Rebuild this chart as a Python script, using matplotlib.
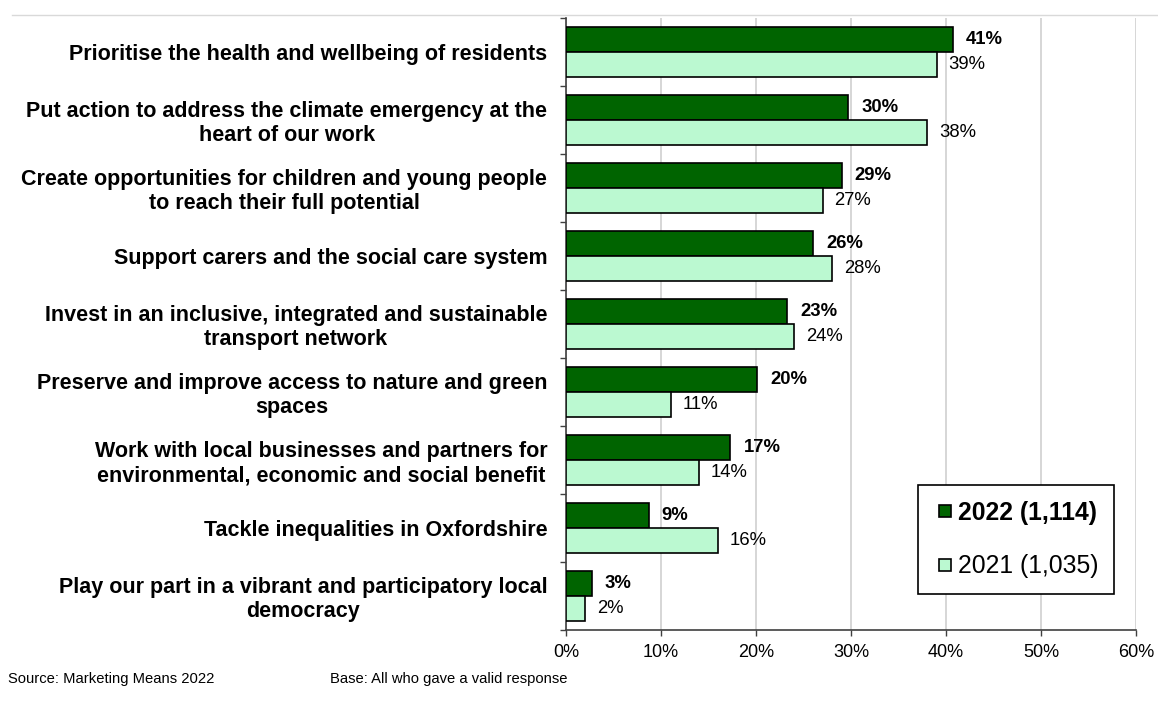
import numpy as np
import matplotlib
matplotlib.use("Agg")
import matplotlib.pyplot as plt
from matplotlib.lines import Line2D

plt.rcParams['font.family'] = ['Liberation Sans', 'DejaVu Sans']

categories = [
    "Prioritise the health and wellbeing of residents",
    "Put action to address the climate emergency at the\nheart of our work",
    "Create opportunities for children and young people\nto reach their full potential",
    "Support carers and the social care system",
    "Invest in an inclusive, integrated and sustainable\ntransport network",
    "Preserve and improve access to nature and green\nspaces",
    "Work with local businesses and partners for\nenvironmental, economic and social benefit",
    "Tackle inequalities in Oxfordshire",
    "Play our part in a vibrant and participatory local\ndemocracy",
]
values_2022 = [40.7, 29.7, 29.0, 26.0, 23.3, 20.1, 17.3, 8.7, 2.7]
values_2021 = [39.0, 38.0, 27.0, 28.0, 24.0, 11.0, 14.0, 16.0, 2.0]
series_names = ["2022 (1,114)", "2021 (1,035)"]
x_ticks = [0, 10, 20, 30, 40, 50, 60]
footer_source = "Source: Marketing Means 2022"
footer_base = "Base: All who gave a valid response"

dark = '#006400'
light = '#BBF9D1'
axis_col = '#404040'

W, H = 1158, 713
fig = plt.figure(figsize=(W / 100, H / 100), dpi=100)
ax = fig.add_axes([566 / W, 1 - 630 / H, 570 / W, 612 / H])

y = np.arange(len(categories))
h = 0.372
ax.barh(y - h / 2, values_2022, height=h, color=dark, edgecolor='black', linewidth=1.2, zorder=3)
ax.barh(y + h / 2, values_2021, height=h, color=light, edgecolor='black', linewidth=1.2, zorder=3)

for yi, v in zip(y, values_2022):
    ax.annotate(f"{v:.0f}%", (v, yi - h / 2), xytext=(9.5, 0), textcoords='offset points',
                va='center', ha='left', fontsize=13.3, fontweight='bold')
for yi, v in zip(y, values_2021):
    ax.annotate(f"{v:.0f}%", (v, yi + h / 2), xytext=(8.5, 0), textcoords='offset points',
                va='center', ha='left', fontsize=13.3)

ax.set_xlim(0, 60)
ax.set_ylim(len(categories) - 0.5, -0.5)
ax.set_xticks(x_ticks)
ax.set_xticklabels([f"{t}%" for t in x_ticks], fontsize=13)
ax.set_yticks(y)
ax.set_yticklabels(categories, fontsize=15.5, fontweight='bold', multialignment='center',
                   linespacing=1.17)
ax.set_yticks(np.arange(-0.5, len(categories), 1), minor=True)
ax.tick_params(axis='y', which='major', length=0, pad=13.5)
ax.tick_params(axis='y', which='minor', length=4, direction='out', color=axis_col, width=1)
ax.tick_params(axis='x', length=4, direction='out', color=axis_col, width=1, pad=6)

ax.xaxis.grid(True, color='#d0d0d0', linewidth=1.2, zorder=0)
ax.set_axisbelow(True)
for s in ['top', 'right']:
    ax.spines[s].set_visible(False)
for s in ['left', 'bottom']:
    ax.spines[s].set_color(axis_col)
    ax.spines[s].set_linewidth(1.2)

handles = [Line2D([], [], linestyle='none', marker='s', markersize=9,
                  markerfacecolor=dark, markeredgecolor='black', markeredgewidth=1.2),
           Line2D([], [], linestyle='none', marker='s', markersize=9,
                  markerfacecolor=light, markeredgecolor='black', markeredgewidth=1.2)]
leg = fig.legend(handles, series_names, loc='upper left',
                 bbox_to_anchor=(918 / W, 1 - 485 / H), fontsize=17.8,
                 frameon=True, fancybox=False, edgecolor='black', framealpha=1,
                 handlelength=0.9, handletextpad=0.05,
                 labelspacing=1.18, borderpad=0.65, borderaxespad=0)
leg.get_frame().set_linewidth(1.2)
leg.get_texts()[0].set_fontweight('bold')

fig.add_artist(Line2D([12 / W, 1], [1 - 15 / H, 1 - 15 / H], color='#d9d9d9', linewidth=1))

fig.text(8 / W, 1 - 679 / H, footer_source, fontsize=10.6, va='center', ha='left')
fig.text(330 / W, 1 - 679 / H, footer_base, fontsize=10.6, va='center', ha='left')

fig.savefig('out.png', dpi=100)
